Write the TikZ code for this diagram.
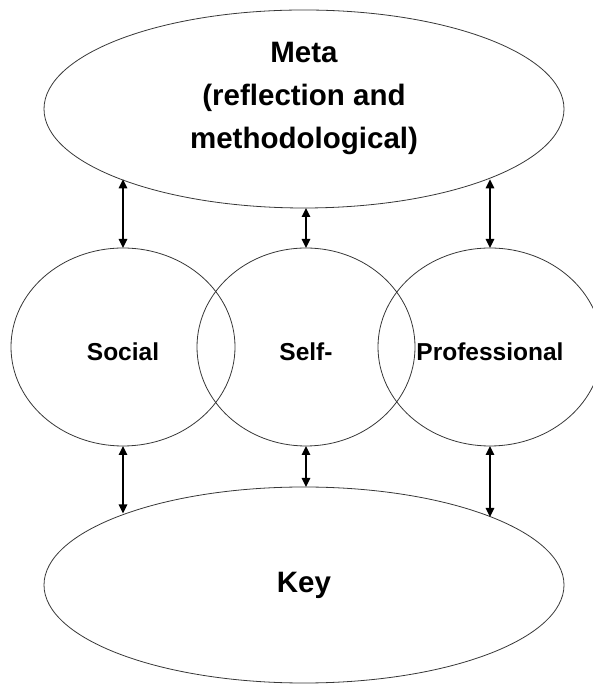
\documentclass[tikz,border=0pt]{standalone}
\usepackage{fontspec}
\setmainfont{Liberation Sans}
\usepackage{tikz}
\usetikzlibrary{arrows.meta,shapes.geometric}
\usepackage{xcolor}
\definecolor{rimgray}{RGB}{55,55,55}

\begin{document}
\begin{tikzpicture}[x=1pt, y=1pt, >={Triangle[length=9pt, width=8.5pt]},
    oval/.style={ellipse, draw=rimgray, line width=0.8pt, inner sep=0pt, outer sep=0pt},
    bigtext/.style={font=\bfseries\fontsize{29.5}{42}\selectfont, align=center},
    ring/.style={oval, minimum height=198pt, text height=28pt, text depth=0pt,
      font=\bfseries\fontsize{24.5}{30}\selectfont},
    link/.style={<->, line width=1.5pt}]
    \useasboundingbox (0,0) rectangle (593,684);
    % outer levels
    \node[oval, minimum width=520pt, minimum height=198pt] (meta) at (304,575) {};
    \node[bigtext] (metatext) at (304,586) {Meta\\[1pt](reflection and\\[1pt]methodological)};
    \node[oval, minimum width=520pt, minimum height=196pt, bigtext] (key) at (304,99) {Key};
    % middle row
    \node[ring, minimum width=224pt] (social) at (123,337) {Social};
    \node[ring, minimum width=218pt] (self) at (306,337) {Self-};
    \node[ring, minimum width=224pt] (prof) at (490,337) {Professional};
    % links up and down
    \draw[link] (social.north |- meta.201.6) -- (social.north);
    \draw[link] (self.north |- meta.south) -- (self.north);
    \draw[link] (prof.north |- meta.339.6) -- (prof.north);
    \draw[link] (social.south) -- (social.south |- key.158.75);
    \draw[link] (self.south) -- (self.south |- key.north);
    \draw[link] (prof.south) -- (prof.south |- key.20.2);
\end{tikzpicture}
\end{document}
